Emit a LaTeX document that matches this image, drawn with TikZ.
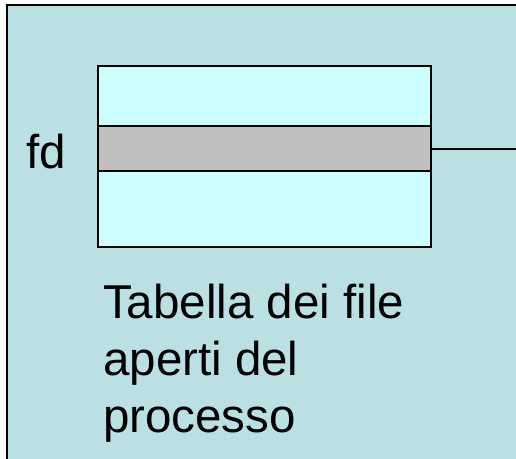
\documentclass[tikz,border=0pt]{standalone}
\usepackage{fontspec}
\setmainfont{Liberation Sans}
\definecolor{outerbg}{HTML}{BBE0E3}
\definecolor{rowbg}{HTML}{CCFFFF}
\definecolor{selbg}{HTML}{C0C0C0}
\begin{document}
\begin{tikzpicture}[x=1pt,y=-1pt,
  frame/.style={draw=black,line width=2pt},
  tcell/.style={draw=black,line width=2pt,fill=rowbg,inner sep=0pt,outer sep=0pt,anchor=north west},
  lbl/.style={font=\fontsize{47.5}{57}\selectfont,inner sep=0pt}]
\useasboundingbox (0,0) rectangle (516,458);
\clip (0,0) rectangle (516,458);
\fill[outerbg] (7,5) rectangle (540,480);
\draw[frame] (7,5) rectangle (540,480);
\node[tcell,minimum width=333pt,minimum height=181pt] (tab) at (98,66) {};
\node[tcell,fill=selbg,minimum width=333pt,minimum height=45pt] (row) at (98,126) {};
\coordinate (out) at (530,148.5);
\draw[line width=2pt] (row.east) -- (out);
\node[lbl,anchor=base west] (fd) at (26,168) {fd};
\node[lbl,anchor=north west,align=left] (cap) at (103,284) {\rule{0pt}{34pt}Tabella dei file\\aperti del\\processo};
\end{tikzpicture}
\end{document}
